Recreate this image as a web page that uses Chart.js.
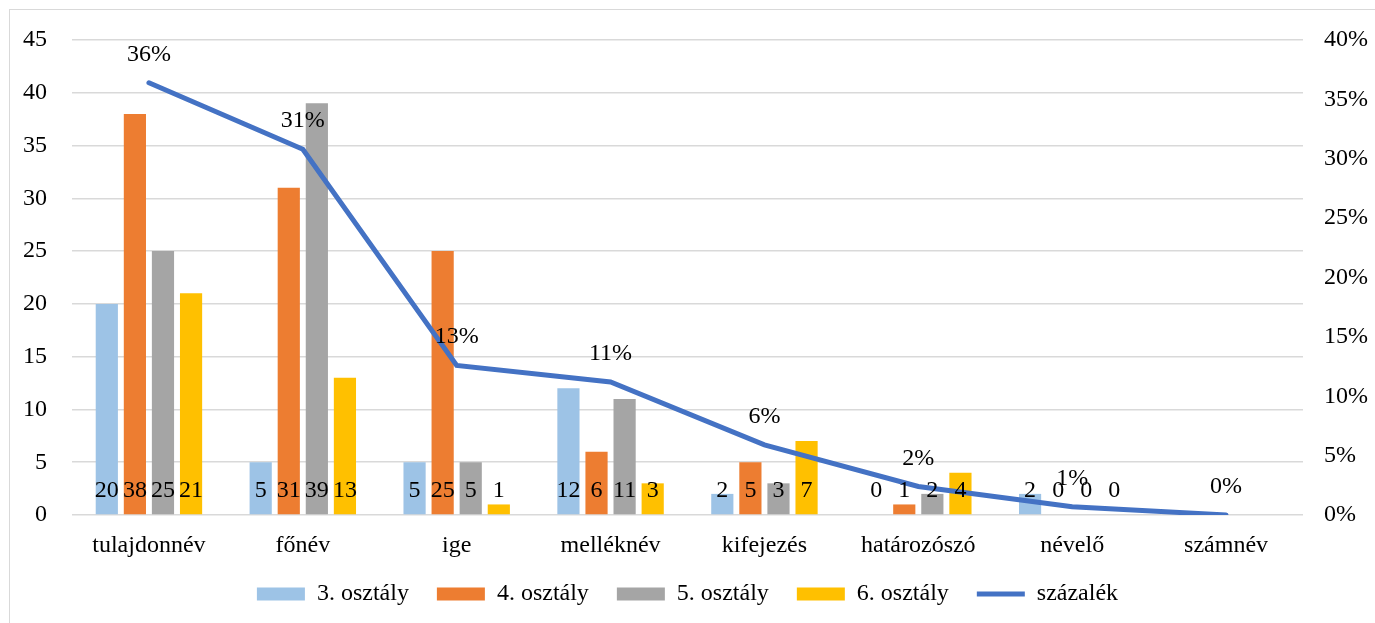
<!DOCTYPE html>
<html>
<head>
<meta charset="utf-8">
<script src="https://cdn.jsdelivr.net/npm/chart.js@4.4.1/dist/chart.umd.min.js"></script>
<style>
  html, body { margin: 0; padding: 0; background: #fff; overflow: hidden; }
  #frame { position: absolute; left: 9px; top: 9px; width: 1400px; height: 700px; border: 1px solid #d9d9d9; }
  #wrap { position: absolute; left: 0; top: 0; width: 1375px; height: 623px; }
</style>
</head>
<body>
<div id="frame"></div>
<div id="wrap"><canvas id="chart"></canvas></div>
<script>
// categories (word classes)
const categories = ['tulajdonnév', 'főnév', 'ige', 'melléknév', 'kifejezés', 'határozószó', 'névelő', 'számnév'];

// counts per grade
const grade3 = [20, 5, 5, 12, 2, 0, 2, null];
const grade4 = [38, 31, 25, 6, 5, 1, 0, null];
const grade5 = [25, 39, 5, 11, 3, 2, 0, null];
const grade6 = [21, 13, 1, 3, 7, 4, 0, null];

// share of all words, in percent
const percent = [36.4, 30.8, 12.6, 11.2, 5.9, 2.4, 0.7, 0];

const FONT = 'Liberation Serif, Times New Roman, serif';

// draws the value labels: counts at the bottom of the bars, percents above the line
const valueLabels = {
    id: 'valueLabels',
    afterDatasetsDraw(chart) {
        const ctx = chart.ctx;
        const base = chart.scales.y.getPixelForValue(0);
        ctx.save();
        ctx.font = '24px ' + FONT;
        ctx.fillStyle = '#000';
        ctx.textAlign = 'center';
        ctx.textBaseline = 'alphabetic';
        chart.data.datasets.forEach((ds, i) => {
            const meta = chart.getDatasetMeta(i);
            meta.data.forEach((el, j) => {
                const v = ds.data[j];
                if (v === null || v === undefined) return;
                if (ds.type === 'line') {
                    ctx.fillText(Math.round(v) + '%', el.x, el.y - 22);
                } else {
                    ctx.fillText(String(v), el.x, base - 18);
                }
            });
        });
        ctx.restore();
    }
};

const barCommon = { categoryPercentage: 0.73, barPercentage: 0.79, yAxisID: 'y', pointStyle: 'rect', borderWidth: 0 };

new Chart(document.getElementById('chart'), {
    type: 'bar',
    data: {
        labels: categories,
        datasets: [
            Object.assign({ label: '3. osztály', data: grade3, backgroundColor: '#9DC3E6', order: 2 }, barCommon),
            Object.assign({ label: '4. osztály', data: grade4, backgroundColor: '#ED7D31', order: 2 }, barCommon),
            Object.assign({ label: '5. osztály', data: grade5, backgroundColor: '#A5A5A5', order: 2 }, barCommon),
            Object.assign({ label: '6. osztály', data: grade6, backgroundColor: '#FFC000', order: 2 }, barCommon),
            {
                type: 'line',
                label: 'százalék',
                data: percent,
                yAxisID: 'y1',
                borderColor: '#4472C4',
                backgroundColor: '#4472C4',
                borderWidth: 5,
                borderCapStyle: 'round',
                pointRadius: 0,
                pointStyle: 'line',
                tension: 0,
                order: 1
            }
        ]
    },
    options: {
        responsive: true,
        maintainAspectRatio: false,
        animation: false,
        layout: { padding: { top: 40, bottom: 7, left: 0, right: 0 } },
        plugins: {
            tooltip: { enabled: false },
            legend: {
                position: 'bottom',
                labels: {
                    usePointStyle: true,
                    pointStyleWidth: 48,
                    boxHeight: 13,
                    padding: 28,
                    color: '#000',
                    font: { family: FONT, size: 24 },
                    sort: (a, b) => a.datasetIndex - b.datasetIndex
                }
            }
        },
        scales: {
            x: {
                grid: { display: false, drawTicks: false },
                border: { display: false },
                ticks: { color: '#000', font: { family: FONT, size: 24 }, padding: 16, maxRotation: 0 },
                afterFit(scale) {
                    scale.height = 39;
                    // labels are taller than this box, so do not clip them
                    scale._computeLabelArea = () => null;
                }
            },
            y: {
                position: 'left',
                min: 0, max: 45,
                ticks: { stepSize: 5, color: '#000', font: { family: FONT, size: 24 }, padding: 25 },
                grid: { color: '#D9D9D9', lineWidth: 1.5, drawTicks: false },
                border: { display: false },
                afterFit(scale) { scale.width = 72; }
            },
            y1: {
                position: 'right',
                min: 0, max: 40,
                ticks: { stepSize: 5, color: '#000', font: { family: FONT, size: 24 }, padding: 21, callback: v => v + '%' },
                grid: { display: false, drawTicks: false },
                border: { display: false },
                afterFit(scale) { scale.width = 72; }
            }
        }
    },
    plugins: [valueLabels]
});
</script>
</body>
</html>
